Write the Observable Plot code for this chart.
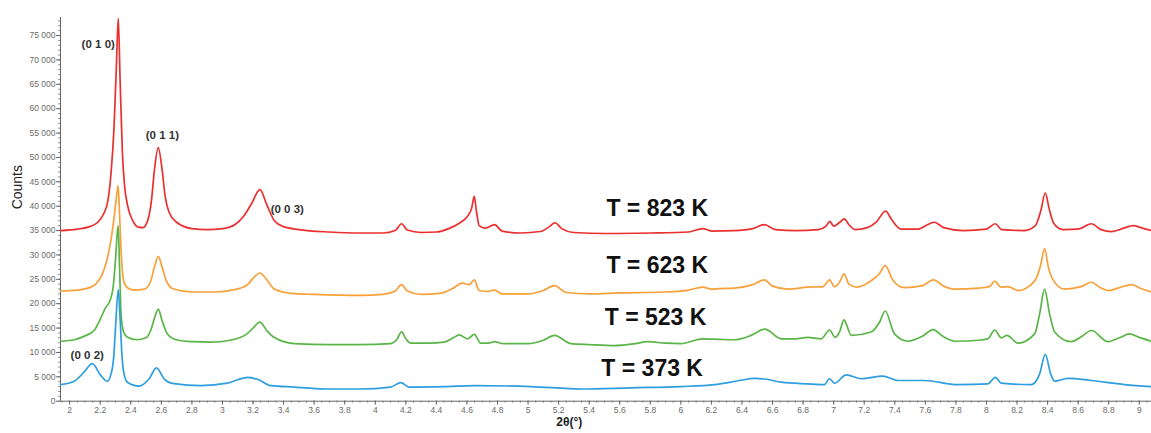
<!DOCTYPE html>
<html>
<head>
<meta charset="utf-8">
<script src="https://cdn.jsdelivr.net/npm/d3@7"></script>
<script src="https://cdn.jsdelivr.net/npm/@observablehq/plot@0.6"></script>
<style>
  html, body { margin: 0; padding: 0; background: #fff; }
  #chart svg { display: block; }
</style>
</head>
<body>
<div id="chart"></div>
<script>
// XRD patterns, [2θ (°), counts], one array per temperature (each offset vertically)
const t823 = [[1.94,35000],[2.05,35300],[2.12,35700],[2.18,36600],[2.22,38300],[2.25,41100],[2.27,46500],[2.29,56000],[2.305,68000],[2.318,78500],[2.33,66000],[2.345,51000],[2.36,44000],[2.38,40000],[2.41,37200],[2.45,35700],[2.48,35600],[2.51,37000],[2.535,41100],[2.555,47500],[2.58,52000],[2.605,47500],[2.625,42000],[2.65,38800],[2.7,36700],[2.8,35400],[2.9,35200],[3.0,35400],[3.08,36200],[3.14,38000],[3.19,40500],[3.245,43400],[3.29,40300],[3.34,37000],[3.4,35800],[3.5,35200],[3.7,34700],[3.9,34500],[4.05,34500],[4.13,35000],[4.172,36400],[4.21,35100],[4.3,34600],[4.4,34700],[4.48,35400],[4.55,36500],[4.6,37800],[4.63,39500],[4.648,42000],[4.662,39000],[4.68,36000],[4.72,35500],[4.78,36200],[4.83,34900],[4.95,34500],[5.08,34800],[5.14,35800],[5.176,36600],[5.22,35400],[5.3,34600],[5.5,34400],[5.8,34500],[6.05,34700],[6.143,35400],[6.2,34900],[6.35,35000],[6.47,35400],[6.547,36200],[6.62,35200],[6.75,35000],[6.9,35200],[6.95,35900],[6.975,36900],[7.0,35900],[7.04,36700],[7.07,37400],[7.1,36200],[7.14,35200],[7.22,35600],[7.28,36800],[7.34,39000],[7.38,37200],[7.44,35300],[7.55,35300],[7.62,36300],[7.66,36700],[7.72,35600],[7.85,35000],[8.0,35300],[8.058,36400],[8.1,35200],[8.25,35000],[8.32,36000],[8.355,39000],[8.385,42700],[8.41,39500],[8.44,36500],[8.5,35200],[8.6,35300],[8.686,36400],[8.75,35200],[8.82,34800],[8.9,35500],[8.96,36000],[9.02,35500],[9.08,35000]];

const t623 = [[1.94,22600],[2.05,22800],[2.12,23200],[2.17,24000],[2.21,25800],[2.24,28500],[2.27,33000],[2.29,37500],[2.305,41500],[2.317,44200],[2.327,38000],[2.337,30500],[2.355,24500],[2.38,23200],[2.42,22800],[2.49,23000],[2.53,24600],[2.555,27500],[2.58,29700],[2.605,27500],[2.63,24900],[2.68,23000],[2.8,22400],[2.95,22400],[3.08,22900],[3.16,23800],[3.2,25200],[3.245,26300],[3.29,24900],[3.34,23000],[3.45,22100],[3.6,21900],[3.9,21700],[4.05,21900],[4.13,22600],[4.172,23900],[4.21,22600],[4.3,21900],[4.42,22100],[4.5,23000],[4.57,24200],[4.615,23900],[4.648,24900],[4.68,22700],[4.73,22500],[4.78,22800],[4.83,22000],[5.0,22000],[5.1,22700],[5.172,23700],[5.25,22300],[5.4,22000],[5.6,22200],[5.9,22400],[6.05,22800],[6.143,23400],[6.2,23000],[6.25,23100],[6.35,23200],[6.47,23900],[6.547,24900],[6.6,23600],[6.7,23000],[6.83,23400],[6.93,23500],[6.973,24900],[7.005,23500],[7.04,24500],[7.067,26100],[7.1,24000],[7.15,23400],[7.245,24700],[7.3,26200],[7.337,27800],[7.39,24700],[7.464,23300],[7.58,23700],[7.653,24900],[7.72,23600],[7.79,23000],[7.95,23200],[8.02,23500],[8.053,24600],[8.097,23400],[8.14,23500],[8.206,22700],[8.28,23600],[8.33,25500],[8.355,28000],[8.38,31300],[8.405,27500],[8.43,25200],[8.51,23000],[8.62,23500],[8.686,24400],[8.75,23200],[8.8,22700],[8.87,23300],[8.948,23900],[9.02,23000],[9.08,22400]];

const t523 = [[1.94,12300],[2.03,12600],[2.1,13400],[2.16,14500],[2.2,16800],[2.235,19200],[2.265,20700],[2.285,23500],[2.3,29000],[2.317,36000],[2.327,27000],[2.337,17500],[2.355,14000],[2.38,13100],[2.44,12600],[2.5,13000],[2.53,14500],[2.555,17000],[2.58,18900],[2.605,16500],[2.64,13800],[2.7,12600],[2.8,12200],[2.92,12100],[3.05,12500],[3.16,13800],[3.2,15000],[3.245,16200],[3.29,14500],[3.338,13100],[3.47,11800],[3.7,11600],[3.9,11600],[4.1,11800],[4.14,12600],[4.172,14200],[4.2,12800],[4.233,11900],[4.35,11900],[4.45,12100],[4.51,13000],[4.55,13600],[4.604,12800],[4.648,13700],[4.69,11900],[4.74,11900],[4.78,12200],[4.84,11800],[5.0,11800],[5.1,12500],[5.172,13500],[5.28,11800],[5.4,11600],[5.565,11400],[5.7,11800],[5.78,12200],[5.9,11900],[6.0,11800],[6.143,12800],[6.25,12700],[6.35,12600],[6.46,13500],[6.55,14800],[6.656,12800],[6.75,12800],[6.83,13100],[6.918,12800],[6.973,14600],[7.01,13100],[7.04,14300],[7.067,16700],[7.115,13500],[7.245,14200],[7.3,16200],[7.337,18500],[7.398,13800],[7.486,12300],[7.58,13300],[7.65,14700],[7.72,13200],[7.79,12300],[7.95,12500],[8.01,12800],[8.053,14600],[8.097,13000],[8.134,13500],[8.206,11900],[8.315,13800],[8.348,17900],[8.38,23000],[8.413,17900],[8.446,14200],[8.555,12200],[8.62,13200],[8.686,14500],[8.795,12200],[8.87,13000],[8.937,13800],[9.0,13100],[9.08,12300]];

const t373 = [[1.94,3400],[2.03,4100],[2.094,5950],[2.148,7700],[2.203,5300],[2.247,4100],[2.27,5500],[2.288,9000],[2.3,15000],[2.318,22900],[2.33,17000],[2.342,9500],[2.355,5700],[2.378,3900],[2.454,3100],[2.52,4600],[2.568,6850],[2.618,4600],[2.683,3600],[2.858,3200],[3.032,3700],[3.1,4400],[3.164,4900],[3.229,4500],[3.316,3200],[3.47,2900],[3.7,2500],[3.9,2500],[4.1,2900],[4.168,3800],[4.22,2900],[4.45,3000],[4.648,3200],[5.02,3000],[5.35,2500],[5.67,2750],[6.0,3000],[6.22,3400],[6.394,4300],[6.48,4700],[6.56,4500],[6.656,3900],[6.83,3550],[6.94,3400],[6.973,4600],[7.006,3700],[7.082,5400],[7.18,4600],[7.322,5150],[7.42,4250],[7.595,4250],[7.813,3400],[8.01,3550],[8.058,4900],[8.097,3700],[8.293,3400],[8.348,5600],[8.385,9600],[8.42,5600],[8.446,4100],[8.534,4700],[8.686,4250],[8.904,3400],[9.08,3000]];

// Series styling
const seriesColors = ["#e9302f", "#f8a03a", "#5ab547", "#2e9ee0"];

// Miller-index annotations
const hklText = ["(0 1 0)", "(0 1 1)", "(0 0 3)", "(0 0 2)"];
const hklX = [2.187, 2.607, 3.424, 2.115];
const hklY = [73300, 54500, 39460, 9370];

// Temperature annotations
const tempText = ["T = 823 K", "T = 623 K", "T = 523 K", "T = 373 K"];
const tempX = [5.845, 5.845, 5.834, 5.812];
const tempY = [39460, 27830, 17230, 6650];

// Axis ticks
const xTicks = [2, 2.2, 2.4, 2.6, 2.8, 3, 3.2, 3.4, 3.6, 3.8, 4, 4.2, 4.4, 4.6, 4.8, 5, 5.2, 5.4, 5.6, 5.8, 6, 6.2, 6.4, 6.6, 6.8, 7, 7.2, 7.4, 7.6, 7.8, 8, 8.2, 8.4, 8.6, 8.8, 9];
const yTicks = [0, 5000, 10000, 15000, 20000, 25000, 30000, 35000, 40000, 45000, 50000, 55000, 60000, 65000, 70000, 75000];
const xMinor = d3.range(39, 182).map(i => i / 20);
const yMinor = d3.range(0, 79).map(i => i * 1000);

const fmtY = d3.formatLocale({decimal: ".", thousands: " ", grouping: [3], currency: ["", ""]}).format(",");
const fmtX = d3.format("~g");

const font = "'Liberation Sans', Arial, sans-serif";

const chart = Plot.plot({
  width: 1151,
  height: 433,
  marginLeft: 60,
  marginRight: 0,
  marginTop: 17,
  marginBottom: 32.3,
  x: {domain: [1.94, 9.08]},
  y: {domain: [0, 78700]},
  style: {fontFamily: font, background: "#fff", color: "#555"},
  marks: [
    // minor ticks
    Plot.axisY({ticks: yMinor, tickSize: 2, text: null, label: null, stroke: "#777", strokeWidth: 0.8}),
    Plot.axisX({ticks: xMinor, tickSize: 2, text: null, label: null, stroke: "#777", strokeWidth: 0.8}),
    // major ticks with labels
    Plot.axisY({ticks: yTicks, tickSize: 4, tickPadding: 1, tickFormat: fmtY, label: null,
                fontSize: 8.5, fill: "#6b6b6b", stroke: "#666"}),
    Plot.axisX({ticks: xTicks, tickSize: 4, tickPadding: 2, tickFormat: fmtX, label: null,
                fontSize: 8.5, fill: "#6b6b6b", stroke: "#666"}),
    Plot.ruleX([1.94], {stroke: "#666", strokeWidth: 1}),
    Plot.ruleY([0], {stroke: "#666", strokeWidth: 1}),
    // diffraction patterns, hottest drawn first
    Plot.line(t823, {stroke: seriesColors[0], strokeWidth: 1.7, curve: "monotone-x"}),
    Plot.line(t623, {stroke: seriesColors[1], strokeWidth: 1.7, curve: "monotone-x"}),
    Plot.line(t523, {stroke: seriesColors[2], strokeWidth: 1.7, curve: "monotone-x"}),
    Plot.line(t373, {stroke: seriesColors[3], strokeWidth: 1.7, curve: "monotone-x"}),
    // annotations
    Plot.text(hklText, {x: (d, i) => hklX[i], y: (d, i) => hklY[i], text: d => d,
                        fontSize: 11.5, fontWeight: "bold", fill: "#333"}),
    Plot.text(tempText, {x: (d, i) => tempX[i], y: (d, i) => tempY[i], text: d => d,
                         fontSize: 23, fontWeight: "bold", fill: "#111"}),
    // axis titles
    Plot.text(["Counts"], {frameAnchor: "left", dx: -43, rotate: -90, text: d => d,
                           fontSize: 14, fill: "#222"}),
    Plot.text(["2θ(°)"], {x: [5.27], frameAnchor: "bottom", dy: 25, text: d => d,
                          fontSize: 12, fontWeight: "bold", fill: "#222"})
  ]
});

document.getElementById("chart").appendChild(chart);
</script>
</body>
</html>
